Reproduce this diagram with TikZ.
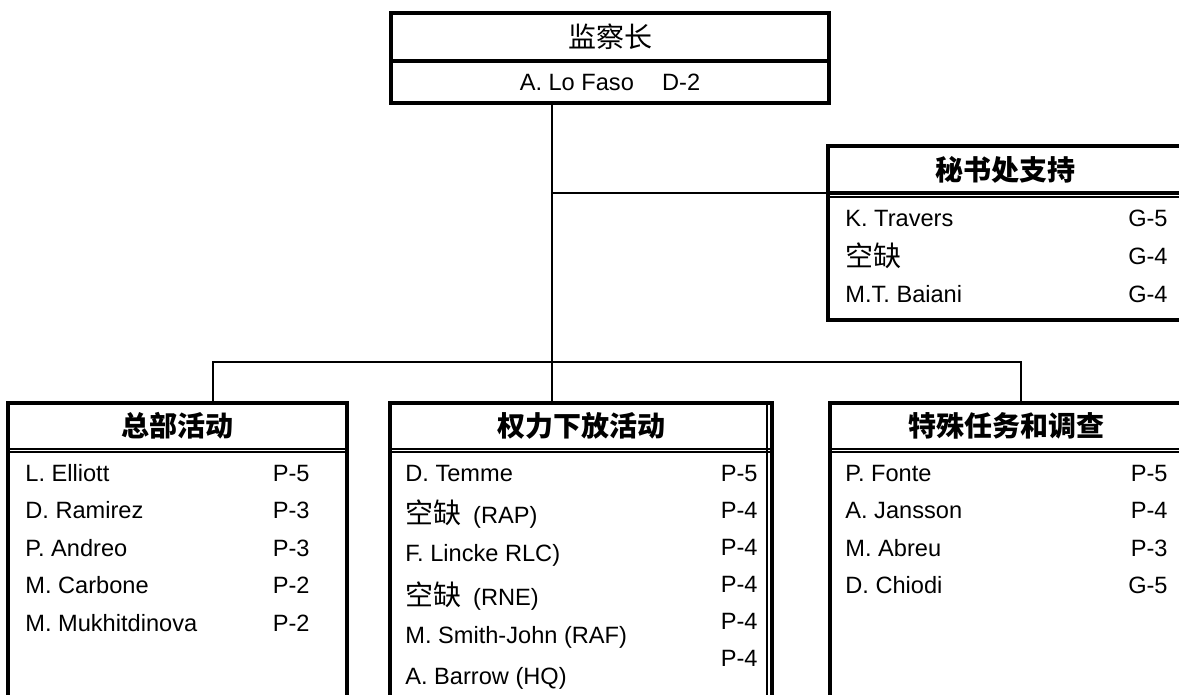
\documentclass[tikz,border=0pt]{standalone}
\usepackage{fontspec}
\setmainfont{Liberation Sans}
\newfontfamily\cjk{Noto Sans CJK SC}
\usetikzlibrary{positioning}

\tikzset{
  frame/.style={draw, line width=2pt, outer sep=0pt},
  rule/.style={line width=0.75pt},
  link/.style={line width=1pt},
  headbox/.style={inner sep=0pt, minimum height=23pt, outer sep=0pt, font=\cjk\bfseries\fontsize{14}{16}\selectfont},
  staff/.style={inner sep=0pt, anchor=west, font=\fontsize{11.8}{14}\selectfont},
  grade/.style={inner sep=0pt, anchor=east, font=\fontsize{11.8}{14}\selectfont},
}
\newcommand{\vacant}{{\cjk\fontsize{14}{16}\selectfont 空缺}}

\begin{document}
\begin{tikzpicture}[x=0.5pt, y=-0.5pt]
  \useasboundingbox (0,0) rectangle (1179,695);
  \clip (0,0) rectangle (1179,695);

  % inspector
  \node[frame, minimum width=219pt, minimum height=24pt, inner sep=0pt, font=\cjk\fontsize{14}{16}\selectfont] (chief) at (610,37) {监察长};
  \node[frame, minimum width=219pt, minimum height=21pt, inner sep=0pt, below=0pt of chief, font=\fontsize{11.8}{14}\selectfont] (chiefname) {A. Lo Faso\hspace{1.2em}D-2};

  % secretariat
  \node[headbox, frame, minimum width=177pt, minimum height=23.5pt] (sec) at (1005,169.5) {秘书处支持};
  \coordinate (secend) at (1182,320);
  \draw[frame] (sec.south west) rectangle (secend);
  \draw[rule] ([yshift=-2pt]sec.south west) -- ([yshift=-2pt]sec.south east);
  \node[staff] (sec1) at (845,218) {K. Travers};
  \node[grade] (sec1g) at (1168,218) {G-5};
  \node[staff] (sec2) at (845,256) {\vacant};
  \node[grade] (sec2g) at (1168,256) {G-4};
  \node[staff] (sec3) at (845,294) {M.T. Baiani};
  \node[grade] (sec3g) at (1168,294) {G-4};

  % units
  \node[headbox, minimum width=169.5pt] (hq) at (177.5,426) {总部活动};
  \node[headbox, minimum width=191pt] (dec) at (581,426) {权力下放活动};
  \node[headbox, minimum width=176pt] (spec) at (1006,426) {特殊任务和调查};
  \draw[frame] (hq.north west) rectangle ([yshift=-140pt]hq.south east);
  \draw[frame] (dec.north west) rectangle ([yshift=-140pt]dec.south east);
  \draw[frame] (spec.north west) rectangle ([yshift=-140pt]spec.south east);
  \draw[rule] ([xshift=-2.5pt]dec.north east) -- ([xshift=-2.5pt,yshift=-140pt]dec.south east);
  \draw[rule] (hq.south west) -- (hq.south east);
  \draw[rule] ([yshift=-1.5pt]hq.south west) -- ([yshift=-1.5pt]hq.south east);
  \draw[rule] (dec.south west) -- (dec.south east);
  \draw[rule] ([yshift=-1.5pt]dec.south west) -- ([yshift=-1.5pt]dec.south east);
  \draw[rule] (spec.south west) -- (spec.south east);
  \draw[rule] ([yshift=-1.5pt]spec.south west) -- ([yshift=-1.5pt]spec.south east);

  % connectors
  \coordinate (fork) at (552,362);
  \coordinate (jl) at (213,362);
  \coordinate (jr) at (1021,362);
  \draw[link] (chiefname.south -| fork) -- (fork);
  \draw[link] (fork |- sec.south) -- (sec.south west);
  \draw[link] (hq.north -| jl) -- (jl) -- (jr) -- (spec.north -| jr);
  \draw[link] (fork) -- (dec.north -| fork);

  % headquarters rows
  \node[staff] (hq1) at (25,473) {L. Elliott};
  \node[grade] (hq1g) at (310,473) {P-5};
  \node[staff] (hq2) at (25,510.5) {D. Ramirez};
  \node[grade] (hq2g) at (310,510.5) {P-3};
  \node[staff] (hq3) at (25,548) {P. Andreo};
  \node[grade] (hq3g) at (310,548) {P-3};
  \node[staff] (hq4) at (25,585.5) {M. Carbone};
  \node[grade] (hq4g) at (310,585.5) {P-2};
  \node[staff] (hq5) at (25,623) {M. Mukhitdinova};
  \node[grade] (hq5g) at (310,623) {P-2};

  % decentralized rows
  \node[staff] (dec1) at (405,473) {D. Temme};
  \node[grade] (dec1g) at (758,473) {P-5};
  \node[staff] (dec2) at (405,514) {\vacant\hspace{0.5em}(RAP)};
  \node[grade] (dec2g) at (758,510) {P-4};
  \node[staff] (dec3) at (405,555) {F. Lincke RLC)};
  \node[grade] (dec3g) at (758,547) {P-4};
  \node[staff] (dec4) at (405,596) {\vacant\hspace{0.5em}(RNE)};
  \node[grade] (dec4g) at (758,584) {P-4};
  \node[staff] (dec5) at (405,637) {M. Smith-John (RAF)};
  \node[grade] (dec5g) at (758,621) {P-4};
  \node[staff] (dec6) at (405,678) {A. Barrow (HQ)};
  \node[grade] (dec6g) at (758,658) {P-4};

  % special assignments rows
  \node[staff] (spec1) at (845,473) {P. Fonte};
  \node[grade] (spec1g) at (1168,473) {P-5};
  \node[staff] (spec2) at (845,510.5) {A. Jansson};
  \node[grade] (spec2g) at (1168,510.5) {P-4};
  \node[staff] (spec3) at (845,548) {M. Abreu};
  \node[grade] (spec3g) at (1168,548) {P-3};
  \node[staff] (spec4) at (845,585.5) {D. Chiodi};
  \node[grade] (spec4g) at (1168,585.5) {G-5};
\end{tikzpicture}
\end{document}
